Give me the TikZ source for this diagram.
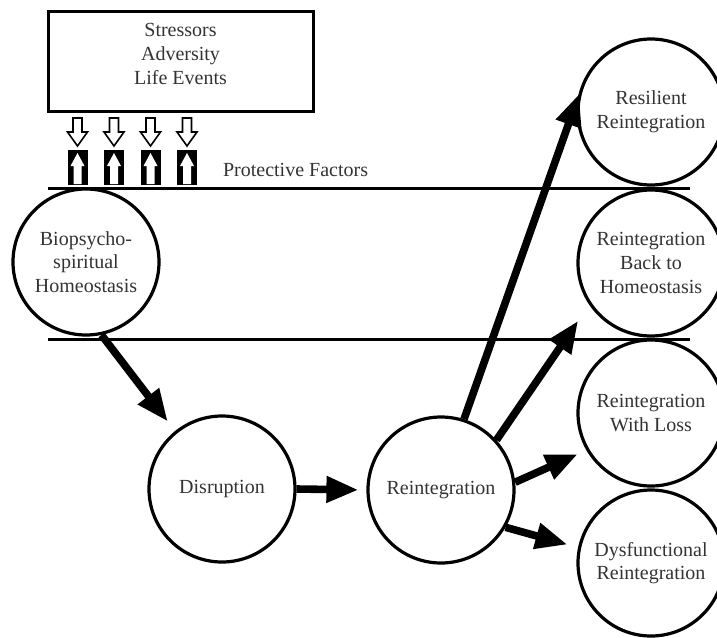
\documentclass[tikz,border=0pt]{standalone}
\usepackage{fontspec}
\setmainfont{Liberation Serif}
\usetikzlibrary{arrows.meta}

\tikzset{
	state/.style={draw, circle, line width=1.6pt, minimum size=73pt, inner sep=0pt, align=center, text=black!80},
	flow/.style={-{Triangle[length=16pt,width=12.5pt]}, line width=3.8pt},
	band/.style={line width=1.5pt},
}

\begin{document}
\begin{tikzpicture}[x=0.5pt, y=-0.5pt, font=\fontsize{10}{11.8}\selectfont]
	\useasboundingbox (0,0) rectangle (717,637);

	\draw[line width=1.5pt] (48,11) rectangle (313,111);
	\node[align=center, text=black!80] (stressors) at (180.5,54) {Stressors\\Adversity\\Life Events};

	\foreach \c in {77.5,114,150.5,187} {
		\filldraw[draw=black, fill=white, line width=0.8pt]
		(\c-4.5, 118) --
		++ (9, 0) --
		++ (0, 14) --
		++ (5.5, 0) --
		++ (-10, 14) --
		++ (-10, -14) --
		++ (5.5, 0) --
		cycle;

		\fill (\c-10, 150) rectangle ++(20, 35);
		\fill[white]
		(\c, 153) --
		++ (7, 13) --
		++ (-3, 0) --
		++ (0, 18) --
		++ (-8, 0) --
		++ (0, -18) --
		++ (-3, 0) --
		cycle;
	}

	\node[anchor=west, text=black!80] (protect) at (216,170) {Protective Factors};
	\draw[band] (48,188) -- (690,188);
	\draw[band] (48,339) -- (690,339);

	\node[state] (bio) at (86,262) {Biopsycho-\\spiritual\\Homeostasis};
	\node[state] (disrupt) at (222,489) {Disruption};
	\node[state] (reint) at (441,490) {Reintegration};
	\node[state] (resilient) at (651,112) {Resilient\\Reintegration};
	\node[state] (backhome) at (651,263) {Reintegration\\Back to\\Homeostasis};
	\node[state] (withloss) at (651,413) {Reintegration\\With Loss};
	\node[state] (dysfunc) at (651,563) {Dysfunctional\\Reintegration};

	\draw[flow, shorten >=6pt] (bio.-78) -- (disrupt.129);
	\draw[flow, shorten >=4pt] (disrupt.east) -- (reint.west);
	\draw[flow, shorten >=9pt] (reint.72) -- (resilient.152);
	\draw[flow, shorten >=9.75pt] (reint.42) -- (backhome.214);
	\draw[flow, shorten >=4.75pt] (reint.6) -- (withloss.210);
	\draw[flow, shorten >=5.5pt] (reint.-30) -- (dysfunc.168);
\end{tikzpicture}
\end{document}
